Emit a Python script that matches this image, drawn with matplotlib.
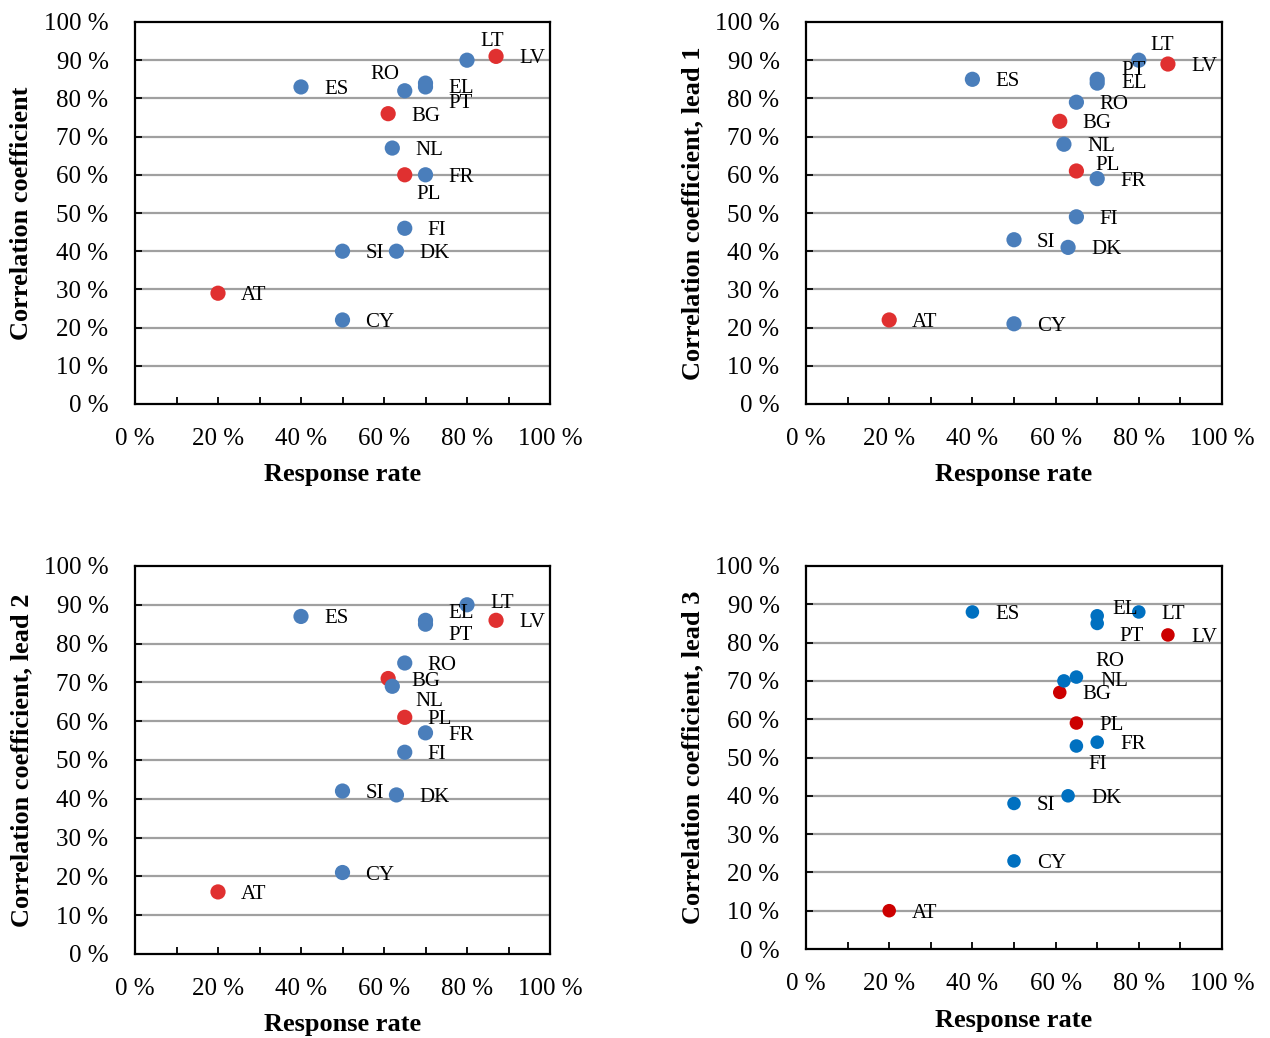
import matplotlib
matplotlib.use("Agg")
import matplotlib.pyplot as plt
from matplotlib.ticker import MultipleLocator, FuncFormatter

plt.rcParams['font.family'] = ['Liberation Serif', 'DejaVu Serif']

countries = ["AT", "BG", "CY", "DK", "EL", "ES", "FI", "FR", "LT", "LV", "NL", "PL", "PT", "RO", "SI"]
response_rate = [0.20, 0.61, 0.50, 0.63, 0.70, 0.40, 0.65, 0.70, 0.80, 0.87, 0.62, 0.65, 0.70, 0.65, 0.50]
red_countries = ["AT", "BG", "LV", "PL"]

corr_lead0 = [0.29, 0.76, 0.22, 0.40, 0.84, 0.83, 0.46, 0.60, 0.90, 0.91, 0.67, 0.60, 0.83, 0.82, 0.40]
corr_lead1 = [0.22, 0.74, 0.21, 0.41, 0.84, 0.85, 0.49, 0.59, 0.90, 0.89, 0.68, 0.61, 0.85, 0.79, 0.43]
corr_lead2 = [0.16, 0.71, 0.21, 0.41, 0.86, 0.87, 0.52, 0.57, 0.90, 0.86, 0.69, 0.61, 0.85, 0.75, 0.42]
corr_lead3 = [0.10, 0.67, 0.23, 0.40, 0.87, 0.88, 0.53, 0.54, 0.88, 0.82, 0.70, 0.59, 0.85, 0.71, 0.38]

y_titles = ["Correlation coefficient", "Correlation coefficient, lead 1",
            "Correlation coefficient, lead 2", "Correlation coefficient, lead 3"]
x_title = "Response rate"

# label offsets in pixels (dx right, dy down); default (23, 0)
label_offsets = [
    {"LT": (13, -21), "RO": (-34, -19), "PT": (23, 14), "EL": (23, 3), "PL": (12, 17)},
    {"LT": (12, -17), "PT": (24, -11), "EL": (24, -2), "PL": (19, -8)},
    {"LT": (23, -4), "EL": (23, -9), "PT": (23, 9), "NL": (23, 13)},
    {"EL": (15, -9), "PT": (22, 11), "RO": (19, -18), "NL": (36, -2), "FI": (12, 16)},
]

W, H = 1270, 1038
fig = plt.figure(figsize=(W / 100, H / 100), dpi=100)

boxes = [(135, 550, 22, 404), (806, 1222, 22, 404), (135, 550, 566, 954), (806, 1222, 566, 949)]
palettes = [("#4A7EBB", "#E03030"), ("#4A7EBB", "#E03030"), ("#4A7EBB", "#E03030"), ("#0070C0", "#CC0000")]
msizes = [120, 120, 120, 95]
series = [corr_lead0, corr_lead1, corr_lead2, corr_lead3]

pct = FuncFormatter(lambda v, p: f"{v*100:.0f} %")

for i, (l, r, t, b) in enumerate(boxes):
    ax = fig.add_axes([l / W, 1 - b / H, (r - l) / W, (b - t) / H])
    blue, red = palettes[i]
    cols = [red if c in red_countries else blue for c in countries]
    ys = series[i]
    for y in [k / 10 for k in range(1, 10)]:
        ax.axhline(y, color="#A0A0A0", lw=1.6, zorder=1)
    ax.scatter(response_rate, ys, s=msizes[i], c=cols, zorder=3, linewidths=0)
    offs = label_offsets[i]
    for c, x, y in zip(countries, response_rate, ys):
        dx, dy = offs.get(c, (23, 0))
        ax.annotate(c, (x, y), xytext=(dx, -dy), textcoords="offset pixels",
                    ha="left", va="center_baseline", fontsize=15, zorder=4)
    ax.set_xlim(0, 1)
    ax.set_ylim(0, 1)
    ax.xaxis.set_major_locator(MultipleLocator(0.2))
    ax.xaxis.set_minor_locator(MultipleLocator(0.1))
    ax.yaxis.set_major_locator(MultipleLocator(0.1))
    ax.xaxis.set_major_formatter(pct)
    ax.yaxis.set_major_formatter(pct)
    ax.tick_params(axis="x", which="both", direction="in", length=5, width=1.3, labelsize=18, pad=17)
    ax.tick_params(axis="y", which="both", direction="in", length=5, width=1.3, labelsize=18, pad=19)
    for s in ax.spines.values():
        s.set_linewidth(1.6)
        s.set_color("black")
    ax.set_ylabel(y_titles[i], fontsize=19, fontweight="bold")
    ax.yaxis.set_label_coords(-102 / (r - l), 0.5)
    ax.set_xlabel(x_title, fontsize=19, fontweight="bold", labelpad=10)

fig.savefig("out.png", dpi=100)
